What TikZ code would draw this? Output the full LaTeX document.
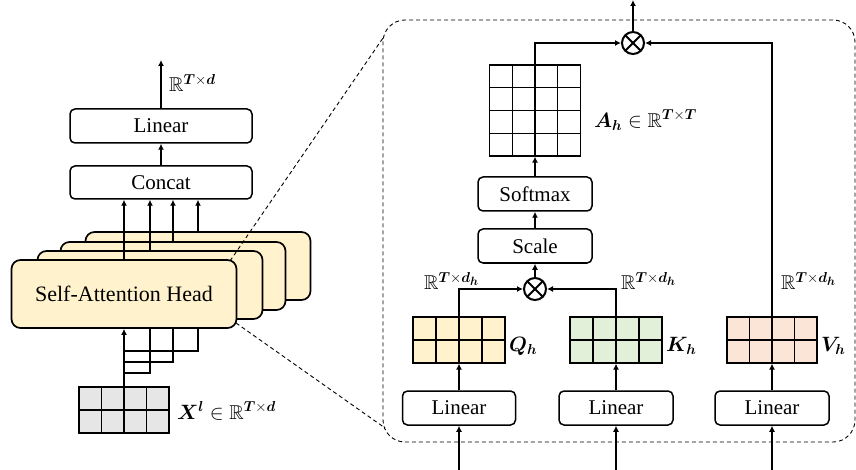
\documentclass[tikz,border=0pt]{standalone}
\usepackage{fontspec}
\setmainfont{Liberation Serif}
\usepackage{amsmath,amssymb,bm}
\DeclareMathSizes{20}{20}{15.5}{12}
\usetikzlibrary{arrows.meta,calc}
\definecolor{headfill}{HTML}{FFF2CC}
\definecolor{kfill}{HTML}{E2F0D9}
\definecolor{vfill}{HTML}{FBE5D6}
\definecolor{xfill}{HTML}{E7E6E6}
\tikzset{
  conn/.style={line width=2.1pt},
  arr/.style={line width=2.1pt,-{Latex[length=6pt,width=6pt]}},
  opbox/.style={draw,line width=1.5pt,rounded corners=5pt,fill=white,inner sep=0pt,
    font=\fontsize{21}{24}\selectfont},
  headbox/.style={draw,line width=1.7pt,rounded corners=9pt,fill=headfill,inner sep=0pt,
    minimum width=225pt,minimum height=68pt,font=\fontsize{22}{26}\selectfont},
  gridl/.style={line width=1.2pt},
  mat/.style={draw,line width=1.2pt,inner sep=0pt,
    path picture={
      \foreach \i in {1,2,3}{
        \draw[gridl] ($(path picture bounding box.north west)!\i/4!(path picture bounding box.north east)$)
          -- ($(path picture bounding box.south west)!\i/4!(path picture bounding box.south east)$);}
      \draw[gridl] ($(path picture bounding box.north west)!0.5!(path picture bounding box.south west)$)
          -- ($(path picture bounding box.north east)!0.5!(path picture bounding box.south east)$);
    }},
  sqmat/.style={draw,line width=1.2pt,inner sep=0pt,fill=white,
    path picture={
      \foreach \i in {1,2,3}{
        \draw[gridl] ($(path picture bounding box.north west)!\i/4!(path picture bounding box.north east)$)
          -- ($(path picture bounding box.south west)!\i/4!(path picture bounding box.south east)$);
        \draw[gridl] ($(path picture bounding box.north west)!\i/4!(path picture bounding box.south west)$)
          -- ($(path picture bounding box.north east)!\i/4!(path picture bounding box.south east)$);}
    }},
  otimes/.style={draw,circle,line width=2pt,minimum size=22pt,inner sep=0pt,fill=white,
    path picture={
      \draw[line width=1.8pt] (path picture bounding box.north west) -- (path picture bounding box.south east)
        (path picture bounding box.north east) -- (path picture bounding box.south west);}},
  lbl/.style={inner sep=0pt,font=\fontsize{20}{24}\selectfont},
  slbl/.style={inner sep=0pt,font=\fontsize{20}{24}\selectfont},
  zoomline/.style={line width=0.9pt,dash pattern=on 4pt off 3pt}
}
\begin{document}
\begin{tikzpicture}[x=1pt,y=-1pt]
\useasboundingbox (0,0) rectangle (856,470);

% ---------- left part ----------
\node[opbox,minimum width=182pt,minimum height=34pt] (lin) at (161,126) {Linear};
\node[opbox,minimum width=182pt,minimum height=33pt] (cat) at (161,182.5) {Concat};
\coordinate (outl) at (161,60);

\node[mat,fill=xfill,minimum width=90pt,minimum height=46pt] (X) at (124,410) {};

% staircase lines behind the heads
\draw[conn] (X.north |- 0,351) -| (198,300) coordinate (s4);
\draw[conn] (X.north |- 0,362) -| (173,310) coordinate (s3);
\draw[conn] (X.north |- 0,373) -| (150,319) coordinate (s2);

\node[headbox] (h4) at (198,266) {};
\node[headbox] (h3) at (173,276) {};
\node[headbox] (h2) at (150,285) {};
\node[headbox] (h1) at (124,294) {Self-Attention Head};

\draw[arr] (X.north) -- (h1.south);
\foreach \h in {h1,h2,h3,h4}{\draw[arr] (\h.north) -- (\h.north |- cat.south);}
\draw[arr] (cat.north) -- (lin.south);
\draw[arr] (lin.north) -- (outl);

\node[lbl,anchor=west] (rl) at (169,83) {$\mathbb{R}^{\bm{T}\times\bm{d}}$};
\node[lbl,anchor=west] (xl) at (177,411) {$\bm{X}^{\bm{l}}\in\mathbb{R}^{\bm{T}\times\bm{d}}$};

% ---------- zoom box ----------
\node[draw,zoomline,rounded corners=22pt,minimum width=472pt,minimum height=422pt,inner sep=0pt] (zoom) at (619,231) {};
\coordinate (zt) at (383,38);
\coordinate (zb) at (385,428);
\draw[zoomline] (230,261) coordinate (ht) -- (zt);
\draw[zoomline] (236,323) coordinate (hb) -- (zb);

% ---------- right part ----------
\node[opbox,minimum width=113pt,minimum height=34pt] (lq) at (459,408) {Linear};
\node[opbox,minimum width=114pt,minimum height=34pt] (lk) at (616,408) {Linear};
\node[opbox,minimum width=114pt,minimum height=34pt] (lv) at (772,408) {Linear};
\coordinate (iq) at (459,470);
\coordinate (ik) at (616,470);
\coordinate (iv) at (772,470);

\node[mat,fill=headfill,minimum width=92pt,minimum height=46pt] (Q) at (459,340) {};
\node[mat,fill=kfill,minimum width=92pt,minimum height=46pt] (K) at (616,340) {};
\node[mat,fill=vfill,minimum width=90pt,minimum height=46pt] (V) at (772,340) {};

\node[otimes] (sx) at (535,289) {};
\node[opbox,minimum width=114pt,minimum height=34pt] (scale) at (535,246) {Scale};
\node[opbox,minimum width=114pt,minimum height=34pt] (soft) at (535,194) {Softmax};
\node[sqmat,minimum width=91pt,minimum height=91pt] (A) at (535,110.5) {};
\node[otimes] (bx) at (633,43) {};
\coordinate (outr) at (633,0);

\draw[arr] (iq) -- (lq.south);
\draw[arr] (ik) -- (lk.south);
\draw[arr] (iv) -- (lv.south);
\draw[arr] (lq.north) -- (Q.south);
\draw[arr] (lk.north) -- (K.south);
\draw[arr] (lv.north) -- (V.south);
\draw[arr] (Q.north) |- (sx.west);
\draw[arr] (K.north) |- (sx.east);
\draw[arr] (sx.north) -- (scale.south);
\draw[arr] (scale.north) -- (soft.south);
\draw[arr] (soft.north) -- (A.south);
\draw[arr] (A.north) |- (bx.west);
\draw[arr] (V.north) |- (bx.east);
\draw[arr] (bx.north) -- (outr);

\node[lbl,anchor=west] (ql) at (509,346) {$\bm{Q_h}$};
\node[lbl,anchor=west] (kl) at (666,346) {$\bm{K_h}$};
\node[lbl,anchor=west] (vl) at (821,346) {$\bm{V_h}$};
\node[lbl,anchor=west] (al) at (594,120) {$\bm{A_h}\in\mathbb{R}^{\bm{T}\times\bm{T}}$};
\node[slbl,anchor=west] (rq) at (424,281) {$\mathbb{R}^{\bm{T}\times\bm{d_h}}$};
\node[slbl,anchor=west] (rk) at (621,281) {$\mathbb{R}^{\bm{T}\times\bm{d_h}}$};
\node[slbl,anchor=west] (rv) at (781,281) {$\mathbb{R}^{\bm{T}\times\bm{d_h}}$};
\end{tikzpicture}
\end{document}
